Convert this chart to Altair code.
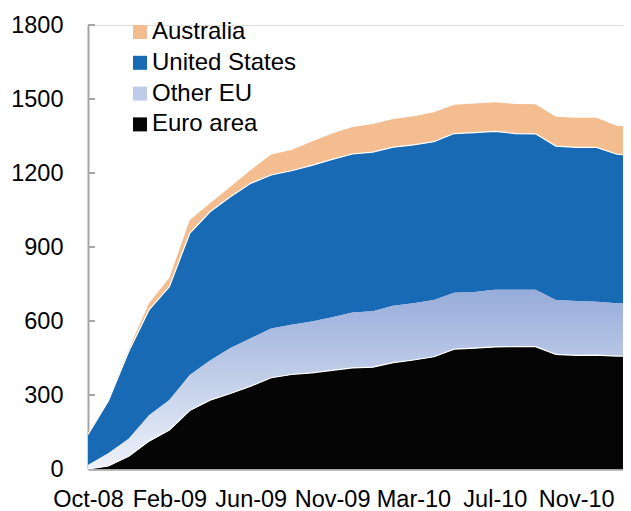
import altair as alt
import pandas as pd

# Monthly categories (one month skipped between Jun-09 and Nov-09, as in the source axis)
months = ["Oct-08", "Nov-08", "Dec-08", "Jan-09", "Feb-09", "Mar-09", "Apr-09",
          "May-09", "Jun-09", "Jul-09", "Aug-09", "Oct-09", "Nov-09", "Dec-09",
          "Jan-10", "Feb-10", "Mar-10", "Apr-10", "May-10", "Jun-10", "Jul-10",
          "Aug-10", "Sep-10", "Oct-10", "Nov-10", "Dec-10", "Jan-11", "Feb-11"]

euro_area = [0, 12, 52, 113, 158, 237, 279, 306, 336, 370, 383, 390, 400, 410,
             413, 431, 442, 455, 486, 490, 495, 496, 496, 465, 461, 462, 458, 457]
other_eu = [16, 52, 71, 105, 122, 144, 161, 185, 194, 200, 202, 208, 215, 224,
            227, 231, 230, 230, 229, 228, 232, 231, 231, 220, 220, 216, 214, 213]
united_states = [124, 212, 353, 427, 459, 574, 603, 613, 628, 622, 624, 633, 640, 643,
                 645, 643, 642, 642, 645, 646, 642, 633, 632, 624, 623, 626, 604, 601]
australia = [1, 3, 9, 27, 36, 54, 34, 40, 54, 83, 84, 97, 105, 109,
             114, 114, 116, 119, 117, 118, 118, 120, 120, 119, 120, 120, 116, 115]

series_names = ["Euro area", "Other EU", "United States", "Australia"]
series_values = [euro_area, other_eu, united_states, australia]
legend_order = ["Australia", "United States", "Other EU", "Euro area"]
legend_colors = ["#F3BD8F", "#176AB3", "#BFCCE9", "#050505"]

y_ticks = [0, 300, 600, 900, 1200, 1500, 1800]
x_tick_idx = [0, 4, 8, 12, 16, 20, 24]
x_tick_labels = [months[i] for i in x_tick_idx]

rows = []
for order, (name, vals) in enumerate(zip(series_names, series_values)):
    for i, v in enumerate(vals):
        rows.append({"i": i, "month": months[i], "series": name, "value": v, "order": order})
df = pd.DataFrame(rows)

label_expr = "[" + ",".join("'" + s + "'" for s in x_tick_labels) + "][round(datum.value/4)]"

FONT = "Liberation Sans"
GRAY = "#A6A6A6"

x_enc = alt.X("i:Q",
              scale=alt.Scale(domain=[0, 26.3], nice=False, zero=False),
              axis=alt.Axis(values=x_tick_idx, labelExpr=label_expr, title=None,
                            ticks=False, grid=False, labelFlush=False,
                            labelOverlap=False, labelPadding=18,
                            domainColor=GRAY, domainWidth=2.5,
                            labelFont=FONT, labelFontSize=23.5, labelColor="black"))
y_scale = alt.Scale(domain=[0, 1800], nice=False)
y_axis = alt.Axis(values=y_ticks, format="d", title=None, ticks=False, grid=False,
                  labelPadding=25, domainColor=GRAY, domainWidth=2,
                  labelFont=FONT, labelFontSize=23.5, labelColor="black")

base = alt.Chart(df).transform_stack(
    stack="value", groupby=["i"], as_=["y0", "y1"],
    sort=[alt.SortField("order", "ascending")]
)

areas = base.mark_area(clip=True).encode(
    x=x_enc,
    y=alt.Y("y1:Q", scale=y_scale, axis=y_axis),
    y2="y0:Q",
    color=alt.Color("series:N",
                    scale=alt.Scale(domain=legend_order, range=legend_colors),
                    legend=alt.Legend(title=None, orient="none", legendX=40, legendY=-5,
                                      symbolType="square", symbolSize=196,
                                      symbolStrokeWidth=0, labelFont=FONT,
                                      labelFontSize=24, labelColor="black",
                                      rowPadding=6.8, labelOffset=0)),
)

other_eu_grad = base.transform_filter(alt.datum.series == "Other EU").mark_area(
    clip=True,
    color=alt.Gradient(gradient="linear",
                       stops=[alt.GradientStop(color="#97ACDA", offset=0),
                              alt.GradientStop(color="#EEF2FA", offset=1)],
                       x1=0, x2=0, y1=0, y2=1)
).encode(x=x_enc, y=alt.Y("y1:Q", scale=y_scale, axis=y_axis), y2="y0:Q")

white_lines = base.transform_filter(
    (alt.datum.series == "Euro area") | (alt.datum.series == "United States")
).mark_line(color="white", strokeWidth=1.2, clip=True).encode(
    x=x_enc, y=alt.Y("y1:Q", scale=y_scale, axis=y_axis), detail="series:N"
)

tick_marks = alt.Chart(pd.DataFrame({"v": y_ticks[1:]})).mark_rule(
    color=GRAY, strokeWidth=2
).encode(y=alt.Y("v:Q", scale=y_scale, axis=y_axis), x=alt.value(0), x2=alt.value(7))

chart = alt.layer(areas, other_eu_grad, white_lines, tick_marks).properties(
    width=535, height=444,
    autosize=alt.AutoSizeParams(type="none"),
    padding={"left": 80, "top": 17, "right": 0, "bottom": 42},
).configure_view(stroke=None).configure(background="white")

chart.save("out.html", embed_options={"renderer": "svg", "actions": False})
